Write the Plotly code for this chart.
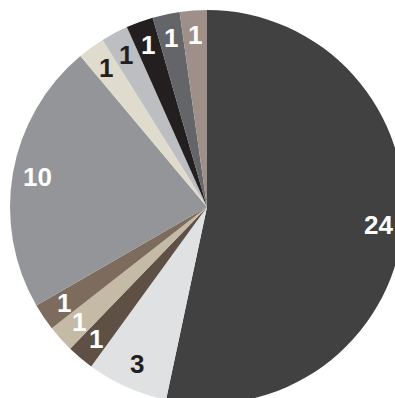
import math
import plotly.graph_objects as go

# Slice values, clockwise from 12 o'clock
values = [24, 3, 1, 1, 1, 10, 1, 1, 1, 1, 1]
labels = ["A", "B", "C", "D", "E", "F", "G", "H", "I", "J", "K"]
colors = ["#414141", "#e0e1e3", "#5e5045", "#c4baa6", "#7d6c5e", "#939598",
          "#e0dccd", "#bcbec1", "#231f20", "#636568", "#9e9088"]
text_colors = ["#ffffff", "#231f20", "#ffffff", "#ffffff", "#ffffff", "#ffffff",
               "#231f20", "#231f20", "#ffffff", "#ffffff", "#ffffff"]

# Canvas is a bit larger than the viewport so the pie bleeds off the right/bottom
W, H = 414, 414
pad = 10
R = (W - 2 * pad) / 2
cx, cy = W / 2, H / 2

fig = go.Figure(go.Pie(
    labels=labels,
    values=values,
    marker=dict(colors=colors, line=dict(width=0)),
    sort=False,
    direction="clockwise",
    rotation=0,
    textinfo="none",
    hoverinfo="label+value",
    domain=dict(x=[pad / W, 1 - pad / W], y=[pad / H, 1 - pad / H]),
    showlegend=False,
))

# Value labels placed near the rim at each slice's mid-angle
total = sum(values)
acc = 0
annotations = []
for v, tc in zip(values, text_colors):
    mid = (acc + v / 2) / total * 2 * math.pi
    acc += v
    rr = R * 0.875
    px = cx + rr * math.sin(mid)
    py = cy - rr * math.cos(mid)
    annotations.append(dict(
        x=px / W, y=1 - py / H, xref="paper", yref="paper",
        text=str(v), showarrow=False,
        font=dict(family="Liberation Sans Narrow, Liberation Sans, Arial, sans-serif",
                  size=26, color=tc, weight="bold"),
        xanchor="center", yanchor="middle",
    ))

fig.update_layout(
    width=W, height=H,
    margin=dict(l=0, r=0, t=0, b=0),
    paper_bgcolor="#ffffff",
    plot_bgcolor="#ffffff",
    annotations=annotations,
)

fig.write_html(
    "out.html",
    post_script="document.body.style.margin='0';"
                "document.body.style.overflow='hidden';"
                "document.documentElement.style.overflow='hidden';",
)
